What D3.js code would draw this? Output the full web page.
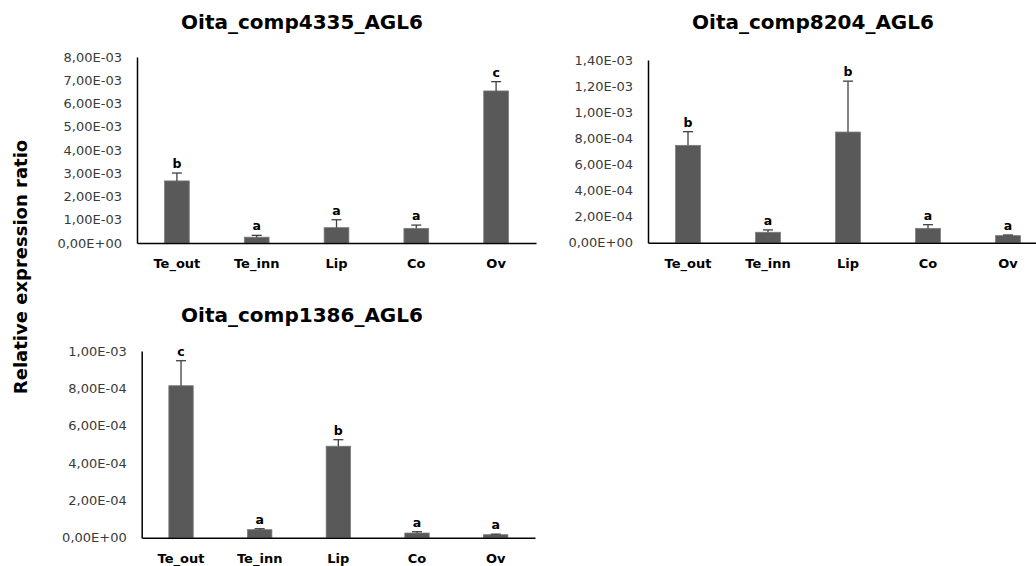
<html>

<head>
    <title>AGL6 relative expression</title>
    <script src="https://d3js.org/d3.v7.min.js"></script>
    <style>
        body { margin: 0; background: #fff; }
        text { font-family: "DejaVu Sans", Verdana, sans-serif; }
    </style>
</head>

<body>
    <div id="myPlot"></div>
    <script>
        var categories = ["Te_out", "Te_inn", "Lip", "Co", "Ov"];

        // Oita_comp4335_AGL6
        var values4335 = [2.67e-3, 0.25e-3, 0.66e-3, 0.63e-3, 6.54e-3];
        var errors4335 = [0.34e-3, 0.08e-3, 0.34e-3, 0.14e-3, 0.40e-3];
        var letters4335 = ["b", "a", "a", "a", "c"];
        var ticks4335 = ["0,00E+00", "1,00E-03", "2,00E-03", "3,00E-03", "4,00E-03", "5,00E-03", "6,00E-03", "7,00E-03", "8,00E-03"];

        // Oita_comp8204_AGL6
        var values8204 = [7.46e-4, 0.80e-4, 8.48e-4, 1.10e-4, 0.54e-4];
        var errors8204 = [1.05e-4, 0.18e-4, 3.90e-4, 0.28e-4, 0.05e-4];
        var letters8204 = ["b", "a", "b", "a", "a"];
        var ticks8204 = ["0,00E+00", "2,00E-04", "4,00E-04", "6,00E-04", "8,00E-04", "1,00E-03", "1,20E-03", "1,40E-03"];

        // Oita_comp1386_AGL6
        var values1386 = [8.14e-4, 0.43e-4, 4.90e-4, 0.25e-4, 0.16e-4];
        var errors1386 = [1.34e-4, 0.05e-4, 0.35e-4, 0.07e-4, 0.03e-4];
        var letters1386 = ["c", "a", "b", "a", "a"];
        var ticks1386 = ["0,00E+00", "2,00E-04", "4,00E-04", "6,00E-04", "8,00E-04", "1,00E-03"];

        var panels = [
            { title: "Oita_comp4335_AGL6", values: values4335, errors: errors4335, letters: letters4335,
              ticks: ticks4335, step: 1e-3, x0: 137, x1: 536, y0: 243, y1: 57, titleX: 302, titleY: 29 },
            { title: "Oita_comp8204_AGL6", values: values8204, errors: errors8204, letters: letters8204,
              ticks: ticks8204, step: 2e-4, x0: 648, x1: 1048, y0: 242.7, y1: 60, titleX: 813, titleY: 29 },
            { title: "Oita_comp1386_AGL6", values: values1386, errors: errors1386, letters: letters1386,
              ticks: ticks1386, step: 2e-4, x0: 141.7, x1: 535, y0: 537.7, y1: 351, titleX: 302, titleY: 322 }
        ];

        var svg = d3.select("#myPlot").append("svg")
            .attr("width", 1036)
            .attr("height", 566);

        panels.forEach(function (p) {
            var g = svg.append("g");
            var maxV = p.step * (p.ticks.length - 1);

            var xScale = d3.scaleBand()
                .domain(categories)
                .range([p.x0, p.x1])
                .paddingInner(0.69)
                .paddingOuter(0.345);

            var yScale = d3.scaleLinear()
                .domain([0, maxV])
                .range([p.y0, p.y1]);

            // title
            g.append("text")
                .attr("x", p.titleX)
                .attr("y", p.titleY)
                .attr("text-anchor", "middle")
                .style("font-size", "20px")
                .style("font-weight", "bold")
                .style("fill", "#000")
                .text(p.title);

            // y axis
            var tickVals = d3.range(p.ticks.length).map(function (i) { return i * p.step; });
            var yAxis = d3.axisLeft(yScale)
                .tickValues(tickVals)
                .tickSize(0)
                .tickPadding(15)
                .tickFormat(function (d, i) { return p.ticks[i]; });
            var ya = g.append("g")
                .attr("transform", "translate(" + p.x0 + ",0)")
                .call(yAxis);
            ya.select(".domain").attr("stroke", "#000").attr("stroke-width", 1.5);
            ya.selectAll("text")
                .style("font-size", "13px")
                .style("fill", "#3a3a3a")
                .style("font-family", "'DejaVu Sans', sans-serif");

            // bars
            g.selectAll("rect.bar")
                .data(p.values)
                .enter()
                .append("rect")
                .attr("class", "bar")
                .attr("x", function (d, i) { return xScale(categories[i]); })
                .attr("y", function (d) { return yScale(d); })
                .attr("width", xScale.bandwidth())
                .attr("height", function (d) { return p.y0 - yScale(d); })
                .attr("fill", "#595959")
                .attr("stroke", "#7a7a7a")
                .attr("stroke-width", 0.8);

            // error bars (upper only)
            var eb = g.selectAll("g.err")
                .data(p.values)
                .enter()
                .append("g")
                .attr("class", "err");
            eb.append("line")
                .attr("x1", function (d, i) { return xScale(categories[i]) + xScale.bandwidth() / 2; })
                .attr("x2", function (d, i) { return xScale(categories[i]) + xScale.bandwidth() / 2; })
                .attr("y1", function (d) { return yScale(d); })
                .attr("y2", function (d, i) { return yScale(d + p.errors[i]); })
                .attr("stroke", "#404040")
                .attr("stroke-width", 1.3);
            eb.append("line")
                .attr("x1", function (d, i) { return xScale(categories[i]) + xScale.bandwidth() / 2 - 5; })
                .attr("x2", function (d, i) { return xScale(categories[i]) + xScale.bandwidth() / 2 + 5; })
                .attr("y1", function (d, i) { return yScale(d + p.errors[i]); })
                .attr("y2", function (d, i) { return yScale(d + p.errors[i]); })
                .attr("stroke", "#404040")
                .attr("stroke-width", 1.3);

            // significance letters
            g.selectAll("text.letter")
                .data(p.values)
                .enter()
                .append("text")
                .attr("class", "letter")
                .attr("x", function (d, i) { return xScale(categories[i]) + xScale.bandwidth() / 2; })
                .attr("y", function (d, i) { return yScale(d + p.errors[i]) - 5; })
                .attr("text-anchor", "middle")
                .style("font-size", "12.5px")
                .style("font-weight", "bold")
                .style("fill", "#000")
                .text(function (d, i) { return p.letters[i]; });

            // x axis
            var xAxis = d3.axisBottom(xScale).tickSize(0).tickPadding(16);
            var xa = g.append("g")
                .attr("transform", "translate(0," + p.y0 + ")")
                .call(xAxis);
            xa.select(".domain").attr("stroke", "#000").attr("stroke-width", 1.5);
            xa.selectAll("text")
                .style("font-size", "13px")
                .style("font-weight", "bold")
                .style("fill", "#000")
                .style("font-family", "'DejaVu Sans', sans-serif");
        });

        // shared y label
        svg.append("text")
            .attr("transform", "translate(27,267) rotate(-90)")
            .attr("text-anchor", "middle")
            .style("font-size", "18px")
            .style("font-weight", "bold")
            .style("fill", "#000")
            .text("Relative expression ratio");
    </script>
</body>

</html>
